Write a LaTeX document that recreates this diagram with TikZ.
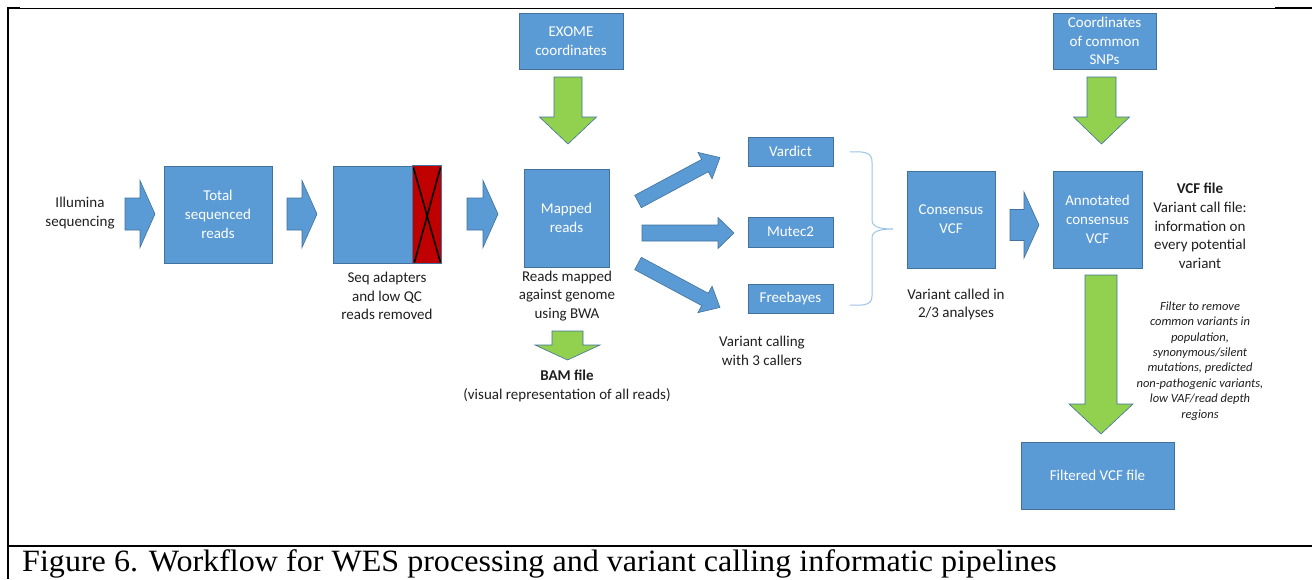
\documentclass[tikz,border=0pt]{standalone}
\usepackage{fontspec}
\setmainfont{Carlito}
\newfontfamily\capfont{Liberation Serif}
\definecolor{boxblue}{HTML}{5B9BD5}
\definecolor{boxline}{HTML}{41719C}
\definecolor{agreen}{HTML}{92D050}
\definecolor{ared}{HTML}{C00000}
\definecolor{bracecol}{HTML}{9DC3E6}
% #1 style, #2 x, #3 y, #4 angle, #5 length, #6 shaft half width, #7 head half width, #8 head length
\newcommand{\blockarrow}[8]{\draw[#1,shift={(#2,#3)},rotate=#4] (0,-#6) -- ({#5-#8},-#6) -- ({#5-#8},-#7) -- (#5,0) -- ({#5-#8},#7) -- ({#5-#8},#6) -- (0,#6) -- cycle;}
\tikzset{
  box/.style={draw=boxline, fill=boxblue, line width=0.8pt, text=white, align=center,
    font=\fontsize{15}{18.7}\selectfont, inner sep=0pt},
  lbl/.style={align=center, font=\fontsize{15}{18.7}\selectfont, text=black!88, inner sep=0pt},
  barrow/.style={fill=boxblue, draw=boxline, line width=0.6pt},
  garrow/.style={fill=agreen, draw=boxline, line width=0.6pt},
  frame/.style={line width=2pt, black},
}
\begin{document}
\begin{tikzpicture}[x=1pt,y=-1pt]
\useasboundingbox (0,0) rectangle (1312,579);
% frame
\draw[frame] (8,8) -- (20,8);
\draw[line width=1pt] (20,8) -- (1275,8);
\draw[frame] (1275,8) -- (1312,8);
\draw[frame] (8,7) -- (8,579);
\draw[frame] (7,546) -- (1312,546);
\node[anchor=base west, inner sep=0pt, xscale=1.035, transform shape, font=\capfont\fontsize{31}{36}\selectfont] (cap) at (22,571.5) {Figure 6. Workflow for WES processing and variant calling informatic pipelines};

% nodes
\node[lbl] (illu) at (80,213) {Illumina\\sequencing};
\node[box, minimum width=108, minimum height=97] (total) at (218,214.5) {Total\\sequenced\\reads};
\node[box, minimum width=108, minimum height=97] (trim) at (387,214.5) {};
\fill[ared, draw=boxline, line width=0.6pt] ([xshift=-29pt]trim.north east) rectangle (trim.south east);
\draw[line width=1.6pt] ([xshift=-28pt,yshift=-2pt]trim.north east) -- ([xshift=-1pt,yshift=1pt]trim.south east);
\draw[line width=1.6pt] ([xshift=-1pt,yshift=-2pt]trim.north east) -- ([xshift=-27pt,yshift=1pt]trim.south east);
\node[lbl] (trimlbl) at (387,296) {Seq adapters\\and low QC\\reads removed};
\node[box, minimum width=85, minimum height=98] (mapped) at (566.5,218) {Mapped\\reads};
\node[lbl] (maplbl) at (567,296) {Reads mapped\\against genome\\using BWA};
\node[box, minimum width=104, minimum height=56] (exome) at (571,41) {EXOME\\coordinates};
\node[lbl] (bam) at (567,386) {\textbf{BAM file}\\(visual representation of all reads)};
\node[box, minimum width=85, minimum height=29] (vardict) at (790.5,151.5) {Vardict};
\node[box, minimum width=85, minimum height=30] (mutec) at (790.5,232) {Mutec2};
\node[box, minimum width=85, minimum height=29] (freebayes) at (790.5,298.5) {Freebayes};
\node[lbl] (calllbl) at (762,351) {Variant calling\\with 3 callers};
\node[box, minimum width=88, minimum height=97] (consensus) at (951,219.5) {Consensus\\VCF};
\node[lbl] (conslbl) at (956,304.5) {Variant called in\\2/3 analyses};
\node[box, minimum width=89, minimum height=97] (annot) at (1097.5,219.5) {Annotated\\consensus\\VCF};
\node[box, minimum width=103, minimum height=56] (snps) at (1104.5,41) {Coordinates\\of common\\SNPs};
\node[lbl] (vcflbl) at (1200,226) {\textbf{VCF file}\\Variant call file:\\information on\\every potential\\variant};
\node[box, minimum width=153, minimum height=67] (filtered) at (1097.5,475.5) {Filtered VCF file};
\node[lbl, font=\fontsize{12.5}{15.4}\selectfont\itshape] (filtlbl) at (1200,361) {Filter to remove\\common variants in\\population,\\synonymous/silent\\mutations, predicted\\non-pathogenic variants,\\low VAF/read depth\\regions};

% block arrows
\blockarrow{barrow}{125}{214}{0}{30}{16}{33.5}{15}
\blockarrow{barrow}{287}{214}{0}{30}{16}{33.5}{15}
\blockarrow{barrow}{467}{214}{0}{31}{16}{33.5}{15}
\blockarrow{barrow}{1010}{225}{0}{29}{15.5}{33}{15}
\blockarrow{barrow}{638}{201.5}{28.2}{93}{7}{15}{17}
\blockarrow{barrow}{642}{233}{0}{92}{8}{15.5}{16}
\blockarrow{barrow}{638}{263.5}{-28.2}{93}{7}{15}{17}
\blockarrow{garrow}{568}{77}{-90}{67}{14}{28.5}{27}
\blockarrow{garrow}{1101.5}{77}{-90}{67}{14.5}{28}{27}
\blockarrow{garrow}{1101}{275}{-90}{159}{16}{32}{30}
\blockarrow{garrow}{567.5}{331}{-90}{29}{15.5}{32.5}{15}

% brace
\draw[bracecol, line width=1pt] (850,152) .. controls (866,151) and (872,153) .. (872,162) -- (872,220) .. controls (872,227) and (880,229) .. (893,229) .. controls (880,229) and (872,231) .. (872,238) -- (872,296) .. controls (872,304) and (866,306) .. (850,305);
\end{tikzpicture}
\end{document}
